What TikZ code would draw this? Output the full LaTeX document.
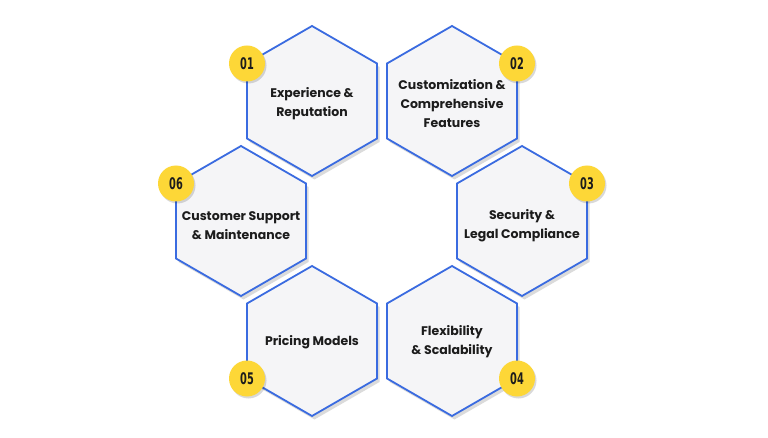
\documentclass[tikz,border=0pt]{standalone}
\usepackage{fontspec}
\setmainfont{Poppins}
\newfontfamily\badgefont{DejaVu Sans Condensed}
\usetikzlibrary{shadows,calc}

\definecolor{hexblue}{HTML}{3A6BE0}
\definecolor{hexfill}{HTML}{F5F5F7}
\definecolor{badgeyellow}{HTML}{FDD737}
\definecolor{inkdark}{HTML}{1C1C1C}
\newcommand{\badgenum}[1]{\scalebox{0.68}[1]{#1}}

\begin{document}
\begin{tikzpicture}[x=1pt,y=-1pt,
		hexagon/.style={draw=hexblue,line width=1.8pt,fill=hexfill,line join=miter,
			drop shadow={shadow xshift=2.5pt,shadow yshift=-3.5pt,opacity=0.14,fill=black}},
		hextext/.style={align=center,text=inkdark,font=\fontsize{12.5}{19}\selectfont\bfseries},
		badge/.style={circle,fill=badgeyellow,minimum size=36pt,inner sep=0pt,text=inkdark,
			font=\badgefont\bfseries\fontsize{16}{16}\selectfont,
			drop shadow={shadow xshift=1.5pt,shadow yshift=-2pt,opacity=0.15,fill=black}}]
		\fill[white] (0,0) rectangle (768,438);
		\useasboundingbox (0,0) rectangle (768,438);
		% centres of the six cells
		\foreach \name/\x/\y in {exp/312/101,cust/452/101,sec/522/221,flex/452/341,price/312/341,supp/241/221}
			\coordinate (\name) at (\x,\y);
		\foreach \name in {exp,cust,sec,flex,price,supp}
			\draw[hexagon,shift={(\name)}] (0,-75) -- (65,-37.5) -- (65,37.5) -- (0,75) -- (-65,37.5) -- (-65,-37.5) -- cycle;
		\node[hextext] (t1) at ($(exp)+(0,3)$) {Experience \&\\Reputation};
		\node[hextext] (t2) at ($(cust)+(0,3)$) {Customization \&\\Comprehensive\\Features};
		\node[hextext] (t3) at ($(sec)+(0,5)$) {Security \&\\Legal Compliance};
		\node[hextext] (t4) at ($(flex)+(0,1)$) {Flexibility\\\& Scalability};
		\node[hextext] (t5) at ($(price)+(0,1)$) {Pricing Models};
		\node[hextext] (t6) at ($(supp)+(0,5)$) {Customer Support\\\& Maintenance};
		\node[badge] (b1) at ($(exp)+(-65,-37.5)$) {\badgenum{01}};
		\node[badge] (b2) at ($(cust)+(65,-37.5)$) {\badgenum{02}};
		\node[badge] (b3) at ($(sec)+(65,-37.5)$) {\badgenum{03}};
		\node[badge] (b4) at ($(flex)+(65,37.5)$) {\badgenum{04}};
		\node[badge] (b5) at ($(price)+(-65,37.5)$) {\badgenum{05}};
		\node[badge] (b6) at ($(supp)+(-65,-37.5)$) {\badgenum{06}};
	\end{tikzpicture}
\end{document}
